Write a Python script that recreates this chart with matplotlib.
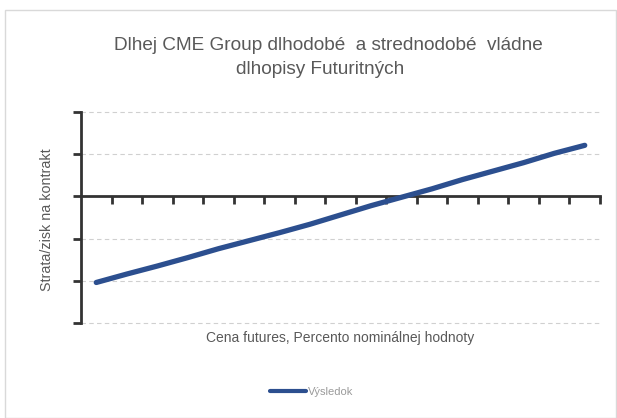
import matplotlib.pyplot as plt
from matplotlib.patches import Rectangle

# values (tick labels are not legible in the source)
points = list(range(17))
vysledok = [-2.04, -1.84, -1.65, -1.45, -1.24, -1.05, -0.86, -0.66, -0.44,
            -0.22, -0.02, 0.18, 0.40, 0.60, 0.80, 1.02, 1.21]
y_ticks = [-3, -2, -1, 0, 1, 2]

plt.rcParams['font.family'] = ['Liberation Sans', 'DejaVu Sans']

fig = plt.figure(figsize=(6.17, 4.18), dpi=100)
fig.patches.append(Rectangle((5 / 617, 0.0), 611 / 617, 408 / 418, transform=fig.transFigure,
                             fill=False, edgecolor='#d9d9d9', linewidth=1))

ax = fig.add_axes([81 / 617, 1 - 323 / 418, 519 / 617, 211 / 418])

ax.plot(points, vysledok, color='#2c4f8f', linewidth=3.8, solid_capstyle='round',
        label='Výsledok', zorder=3)

ax.set_xlim(-0.5, len(points) - 0.5)
ax.set_ylim(-3, 2)
ax.set_yticks(y_ticks)
ax.set_yticklabels([])
ax.set_xticks([p + 0.5 for p in points])
ax.set_xticklabels([])

for y in y_ticks:
    if y != 0:
        ax.axhline(y, color='#d0d0d0', linestyle=(0, (4, 3)), linewidth=0.8,
                   zorder=1, clip_on=False)

for s in ['top', 'right']:
    ax.spines[s].set_visible(False)
ax.spines['bottom'].set_position(('data', 0))
ax.spines['left'].set_color('#333333')
ax.spines['bottom'].set_color('#333333')
ax.spines['left'].set_linewidth(2)
ax.spines['bottom'].set_linewidth(2)
ax.spines['left'].set_zorder(4)
ax.tick_params(axis='y', direction='out', length=6, width=2, color='#333333')
ax.tick_params(axis='x', direction='out', length=6, width=2, color='#333333')

fig.text(328 / 617, 1 - 45 / 418, 'Dlhej CME Group dlhodobé  a strednodobé  vládne',
         ha='center', va='center', fontsize=13.7, color='#595959')
fig.text(320 / 617, 1 - 70 / 418, 'dlhopisy Futuritných',
         ha='center', va='center', fontsize=13.7, color='#595959')
fig.text(340 / 617, 1 - 338 / 418, 'Cena futures, Percento nominálnej hodnoty',
         ha='center', va='center', fontsize=10, color='#595959')
fig.text(47 / 617, 1 - 220 / 418, 'Strata/zisk na kontrakt', rotation=90,
         ha='center', va='center', fontsize=10.3, color='#595959')

leg = fig.legend(loc='center', bbox_to_anchor=(312 / 617, 1 - 392 / 418), frameon=False,
                 fontsize=8, handlelength=3.2, handletextpad=0.2,
                 labelcolor='#9a9a9a')
for line in leg.get_lines():
    line.set_linewidth(3)

fig.savefig('out.png', dpi=100)
